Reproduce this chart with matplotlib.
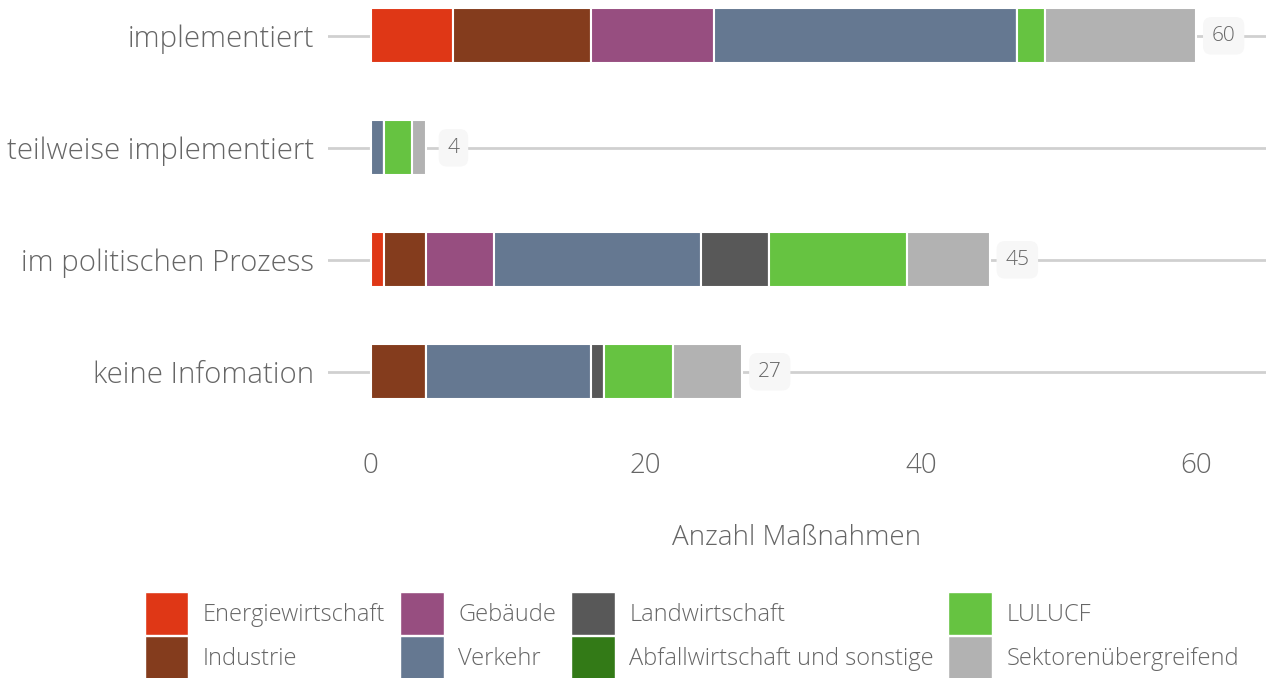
import matplotlib.pyplot as plt
from matplotlib.patches import Patch

categories = ["implementiert", "teilweise implementiert", "im politischen Prozess", "keine Infomation"]
sectors = ["Energiewirtschaft", "Industrie", "Gebäude", "Verkehr",
           "Landwirtschaft", "Abfallwirtschaft und sonstige", "LULUCF", "Sektorenübergreifend"]
colors = ["#df3716", "#843c1d", "#974e80", "#657891",
          "#585858", "#337a17", "#66c341", "#b2b2b2"]

# values per sector, one entry per category (top to bottom)
energie = [6, 0, 1, 0]
industrie = [10, 0, 3, 4]
gebaeude = [9, 0, 5, 0]
verkehr = [22, 1, 15, 12]
landwirtschaft = [0, 0, 5, 1]
abfall = [0, 0, 0, 0]
lulucf = [2, 2, 10, 5]
sektoren = [11, 1, 6, 5]

series = [energie, industrie, gebaeude, verkehr, landwirtschaft, abfall, lulucf, sektoren]
totals = [sum(v) for v in zip(*series)]

plt.rcParams["font.family"] = ["Open Sans", "DejaVu Sans"]
plt.rcParams["font.weight"] = "light"
txt = "#666666"

fig = plt.figure(figsize=(12.7, 6.78), dpi=100)
ax = fig.add_axes([328 / 1270, 1 - 430 / 678, (1266 - 328) / 1270, 430 / 678])

y = list(range(len(categories)))
for i in y:
    ax.axhline(i, color="#d0d0d0", lw=2, zorder=0)

left = [0] * len(categories)
for vals, col in zip(series, colors):
    ax.barh(y, vals, left=left, height=0.49, color=col, edgecolor="white",
            linewidth=1.5, zorder=2)
    left = [a + b for a, b in zip(left, vals)]

for i, t in enumerate(totals):
    ax.annotate(str(t), (t, i), xytext=(20, 0), textcoords="offset points",
                ha="center", va="center", fontsize=15, color=txt, zorder=4,
                fontweight="light",
                bbox=dict(boxstyle="round,pad=0.42,rounding_size=0.4",
                          fc="#f7f7f7", ec="none"))

ax.set_xlim(-3.1, 65.1)
ax.set_ylim(3.52, -0.32)
ax.set_yticks(y)
ax.set_yticklabels(categories, fontsize=21.2, color=txt, fontweight="light")
ax.set_xticks([0, 20, 40, 60])
ax.set_xticklabels(["0", "20", "40", "60"], fontweight="light")
ax.tick_params(axis="x", length=0, labelsize=20, labelcolor=txt, pad=15.5)
ax.tick_params(axis="y", length=0, pad=10)
ax.set_xlabel("Anzahl Maßnahmen", fontsize=20, color=txt, labelpad=32,
              fontweight="light")
for s in ax.spines.values():
    s.set_visible(False)

handles = [Patch(facecolor=c, edgecolor="white") for c in colors]
leg = fig.legend(handles, sectors, ncol=4, loc="upper center",
                 bbox_to_anchor=(692 / 1270, 1 - 580 / 678), frameon=False,
                 fontsize=17, labelcolor=txt, handlelength=1.85, handleheight=2.43,
                 handletextpad=0.62, columnspacing=0.62, labelspacing=0.05,
                 borderpad=0)
for t in leg.get_texts():
    t.set_fontweight("light")

fig.savefig("out.png", dpi=100)
